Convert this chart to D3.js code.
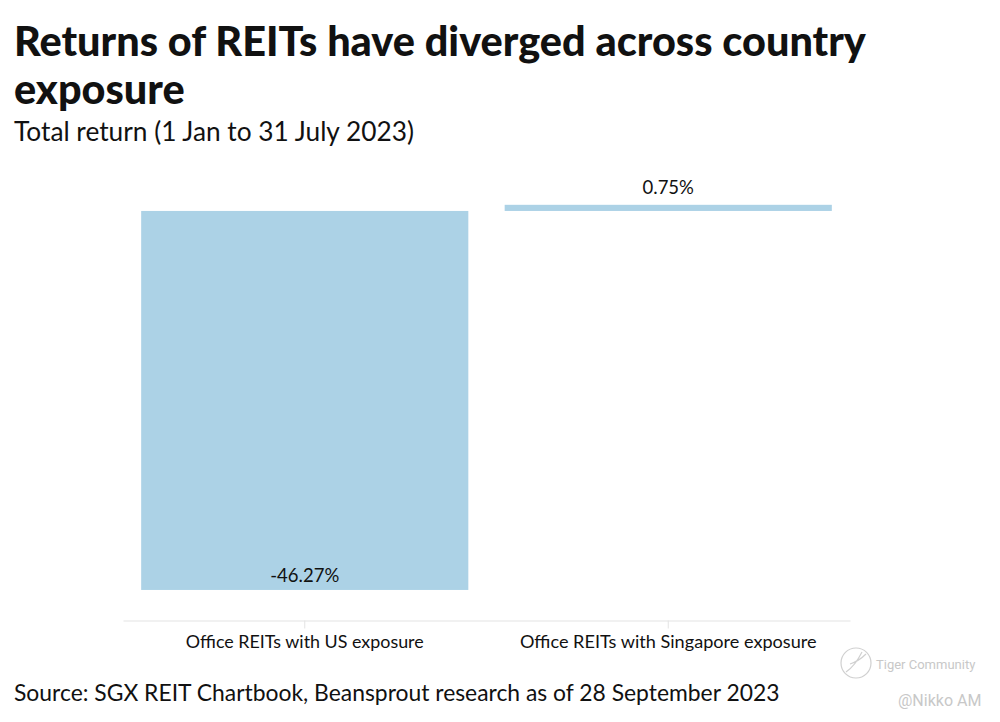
<!DOCTYPE html>
<html>
<head>
<meta charset="utf-8">
<script src="https://cdn.jsdelivr.net/npm/d3@7"></script>
<style>
  html, body { margin: 0; padding: 0; background: #fff; }
  svg { display: block; font-family: Lato, "Noto Sans", sans-serif; }
</style>
</head>
<body>
<svg id="chart" width="1000" height="722"></svg>
<script>
const categories = ["Office REITs with US exposure", "Office REITs with Singapore exposure"];
const values = [-46.27, 0.75];
const valueLabels = ["-46.27%", "0.75%"];
const titleLines = ["Returns of REITs have diverged across country", "exposure"];
const subtitle = "Total return (1 Jan to 31 July 2023)";
const source = "Source: SGX REIT Chartbook, Beansprout research as of 28 September 2023";

const svg = d3.select("#chart");
const barColor = "#acd2e6";

function fit(sel, w) {
  const node = sel.node();
  const len = node.getComputedTextLength();
  const fs = parseFloat(sel.attr("font-size"));
  sel.attr("font-size", (fs * w / len).toFixed(2));
}

// Titles
const t1 = svg.append("text").attr("x", 14).attr("y", 56).attr("font-size", 40)
  .attr("font-weight", 900).attr("fill", "#111").text(titleLines[0]);
fit(t1, 852);
const t2 = svg.append("text").attr("x", 14).attr("y", 104).attr("font-size", t1.attr("font-size"))
  .attr("font-weight", 900).attr("fill", "#111").text(titleLines[1]);
const st = svg.append("text").attr("x", 14).attr("y", 141).attr("font-size", 26)
  .attr("fill", "#111").text(subtitle);
fit(st, 400);

// Scales
const x = d3.scaleBand().domain(categories).range([123, 850]).paddingInner(0.1).paddingOuter(0.05);
const y = d3.scaleLinear().domain([-50, 5]).range([620.5, 170]);

// Bars
svg.append("g").selectAll("rect").data(categories).join("rect")
  .attr("x", d => x(d))
  .attr("width", x.bandwidth())
  .attr("y", (d, i) => y(Math.max(0, values[i])))
  .attr("height", (d, i) => Math.abs(y(values[i]) - y(0)))
  .attr("fill", barColor);

// Value labels
svg.append("g").selectAll("text").data(categories).join("text")
  .attr("x", d => x(d) + x.bandwidth() / 2)
  .attr("y", (d, i) => values[i] < 0 ? y(values[i]) - 8 : y(values[i]) - 11)
  .attr("text-anchor", "middle")
  .attr("font-size", 18.5)
  .attr("fill", "#111")
  .text((d, i) => valueLabels[i]);

// Axis
const axis = svg.append("g").attr("transform", `translate(0,${y(-50)})`)
  .call(d3.axisBottom(x).tickSizeInner(8).tickSizeOuter(0).tickPadding(7));
axis.select(".domain").attr("stroke", "#e3e3e3");
axis.selectAll(".tick line").attr("stroke", "#e3e3e3");
const labelWidths = [238, 297];
axis.selectAll(".tick text").attr("font-size", 17.5).attr("fill", "#111")
  .attr("font-family", "Lato, 'Noto Sans', sans-serif")
  .each(function(d, i) { fit(d3.select(this), labelWidths[i]); });

// Source
const src = svg.append("text").attr("x", 14).attr("y", 701).attr("font-size", 23)
  .attr("fill", "#111").text(source);
fit(src, 766);

// Watermark
const wm = svg.append("g").attr("fill", "none").attr("stroke", "#d0d0d0").attr("stroke-width", 1.2);
wm.append("circle").attr("cx", 856).attr("cy", 663).attr("r", 15);
wm.append("path").attr("d", "M846,672 C852,668 858,660 862,652 M850,664 C856,662 862,658 866,654");
svg.append("text").attr("x", 876).attr("y", 669).attr("font-size", 13).attr("fill", "#c8c8c8")
  .attr("font-family", "Roboto, sans-serif").text("Tiger Community");
svg.append("text").attr("x", 898).attr("y", 706).attr("font-size", 16).attr("fill", "#c8c8c8")
  .attr("font-family", "Roboto, sans-serif").text("@Nikko AM");
</script>
</body>
</html>
